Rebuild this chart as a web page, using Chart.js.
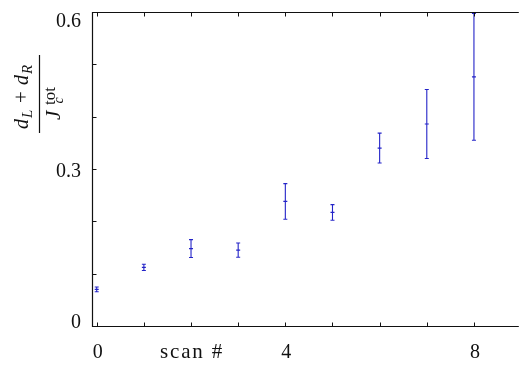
<!DOCTYPE html>
<html>
<head>
<meta charset="utf-8">
<script src="https://cdn.jsdelivr.net/npm/chart.js@4/dist/chart.umd.min.js"></script>
<style>
  html, body { margin: 0; padding: 0; background: #fff; overflow: hidden; }
  #chart { display: block; }
</style>
</head>
<body>
<canvas id="chart" width="523" height="366"></canvas>
<script>
// data
const scans = [0, 1, 2, 3, 4, 5, 6, 7, 8];
const ratio = [0.070, 0.112, 0.148, 0.145, 0.238, 0.217, 0.340, 0.386, 0.476];
const ratioErr = [0.0045, 0.006, 0.017, 0.0135, 0.034, 0.015, 0.0285, 0.066, 0.121];

const xTicks = [0, 1, 2, 3, 4, 5, 6, 7, 8];
const xTickLabels = ["0", "", "scan #", "", "4", "", "", "", "8"];
const yTicks = [0, 0.1, 0.2, 0.3, 0.4, 0.5, 0.6];
const yTickLabels = ["0", "", "", "0.3", "", "", "0.6"];

const BLUE = "#2424c8";
const SERIF = "'Liberation Serif', 'DejaVu Serif', serif";

// error bars, drawn through the chart scales
const errorBars = {
  id: "errorBars",
  beforeDatasetsDraw(chart) {
    const ctx = chart.ctx, xs = chart.scales.x, ys = chart.scales.y;
    ctx.save();
    ctx.strokeStyle = BLUE;
    ctx.lineWidth = 1.1;
    scans.forEach((s, i) => {
      const px = xs.getPixelForValue(s);
      const hi = ys.getPixelForValue(ratio[i] + ratioErr[i]);
      const lo = ys.getPixelForValue(ratio[i] - ratioErr[i]);
      ctx.beginPath();
      ctx.moveTo(px, hi); ctx.lineTo(px, lo);
      ctx.moveTo(px - 2, hi); ctx.lineTo(px + 2, hi);
      ctx.moveTo(px - 2, lo); ctx.lineTo(px + 2, lo);
      ctx.stroke();
    });
    ctx.restore();
  }
};

// frame, inward ticks, tick labels and the fraction on the y axis
const frame = {
  id: "frame",
  afterDraw(chart) {
    const ctx = chart.ctx, xs = chart.scales.x, ys = chart.scales.y;
    const a = chart.chartArea;
    const L = Math.round(a.left) + 0.5, T = Math.round(a.top) + 0.5, B = Math.round(a.bottom) + 0.5;
    ctx.save();
    ctx.strokeStyle = "#111";
    ctx.lineWidth = 1.2;
    ctx.beginPath();
    ctx.moveTo(a.right + 1, T); ctx.lineTo(L, T); ctx.lineTo(L, B); ctx.lineTo(a.right + 1, B);
    ctx.stroke();

    ctx.lineWidth = 1;
    ctx.beginPath();
    xTicks.forEach(v => {
      const px = Math.round(xs.getPixelForValue(v)) + 0.5;
      ctx.moveTo(px, B); ctx.lineTo(px, B - 4);
      ctx.moveTo(px, T); ctx.lineTo(px, T + 4);
    });
    yTicks.forEach(v => {
      const py = Math.round(ys.getPixelForValue(v)) + 0.5;
      ctx.moveTo(L, py); ctx.lineTo(L + 4, py);
    });
    ctx.stroke();

    ctx.fillStyle = "#111";
    ctx.textBaseline = "alphabetic";
    ctx.textAlign = "center";
    xTicks.forEach((v, i) => {
      const s = xTickLabels[i];
      if (!s) return;
      const word = isNaN(Number(s));
      ctx.font = (word ? "21px " : "20px ") + SERIF;
      ctx.letterSpacing = word ? "1.8px" : "0px";
      ctx.fillText(s, xs.getPixelForValue(v) + 1, 358);
    });
    ctx.letterSpacing = "0px";
    ctx.font = "20px " + SERIF;
    ctx.textAlign = "right";
    yTicks.forEach((v, i) => {
      if (!yTickLabels[i]) return;
      const py = ys.getPixelForValue(v);
      const base = Math.min(Math.max(py + 7.5, a.top + 15), a.bottom + 2);
      ctx.fillText(yTickLabels[i], 81, base);
    });

    // y title: (d_L + d_R) / J_c^tot, rotated; u runs up the page, v to the right
    ctx.translate(39.5, 94);
    ctx.rotate(-Math.PI / 2);
    ctx.textAlign = "left";
    ctx.fillRect(-39, -0.6, 78, 1.2);
    const put = (t, f, u, v) => { ctx.font = f; ctx.fillText(t, u, v); };
    const it = "italic 20px " + SERIF, itS = "italic 15px " + SERIF;
    put("d", it, -35, -11.5);
    put("L", itS, -24, -8);
    put("+", "21px " + SERIF, -9, -11.5);
    put("d", it, 9, -11.5);
    put("R", itS, 20, -8);
    put("J", "italic 21px " + SERIF, -26, 20.5);
    put("tot", "17px " + SERIF, -11, 15.5);
    put("c", "italic 14px " + SERIF, -9.5, 23);
    ctx.restore();
  }
};

new Chart(document.getElementById("chart"), {
  type: "scatter",
  data: {
    datasets: [{
      data: scans.map((s, i) => ({ x: s, y: ratio[i] })),
      pointStyle: "line",
      pointRadius: 2,
      borderColor: BLUE,
      backgroundColor: BLUE,
      borderWidth: 1.2
    }]
  },
  options: {
    responsive: false,
    animation: false,
    devicePixelRatio: 1,
    layout: { padding: { left: 92, top: 12, right: 0, bottom: 40 } },
    plugins: { legend: { display: false }, tooltip: { enabled: false } },
    scales: {
      x: { type: "linear", min: -0.1, max: 8.93, display: false },
      y: { min: 0, max: 0.6, display: false }
    }
  },
  plugins: [errorBars, frame]
});
</script>
</body>
</html>
